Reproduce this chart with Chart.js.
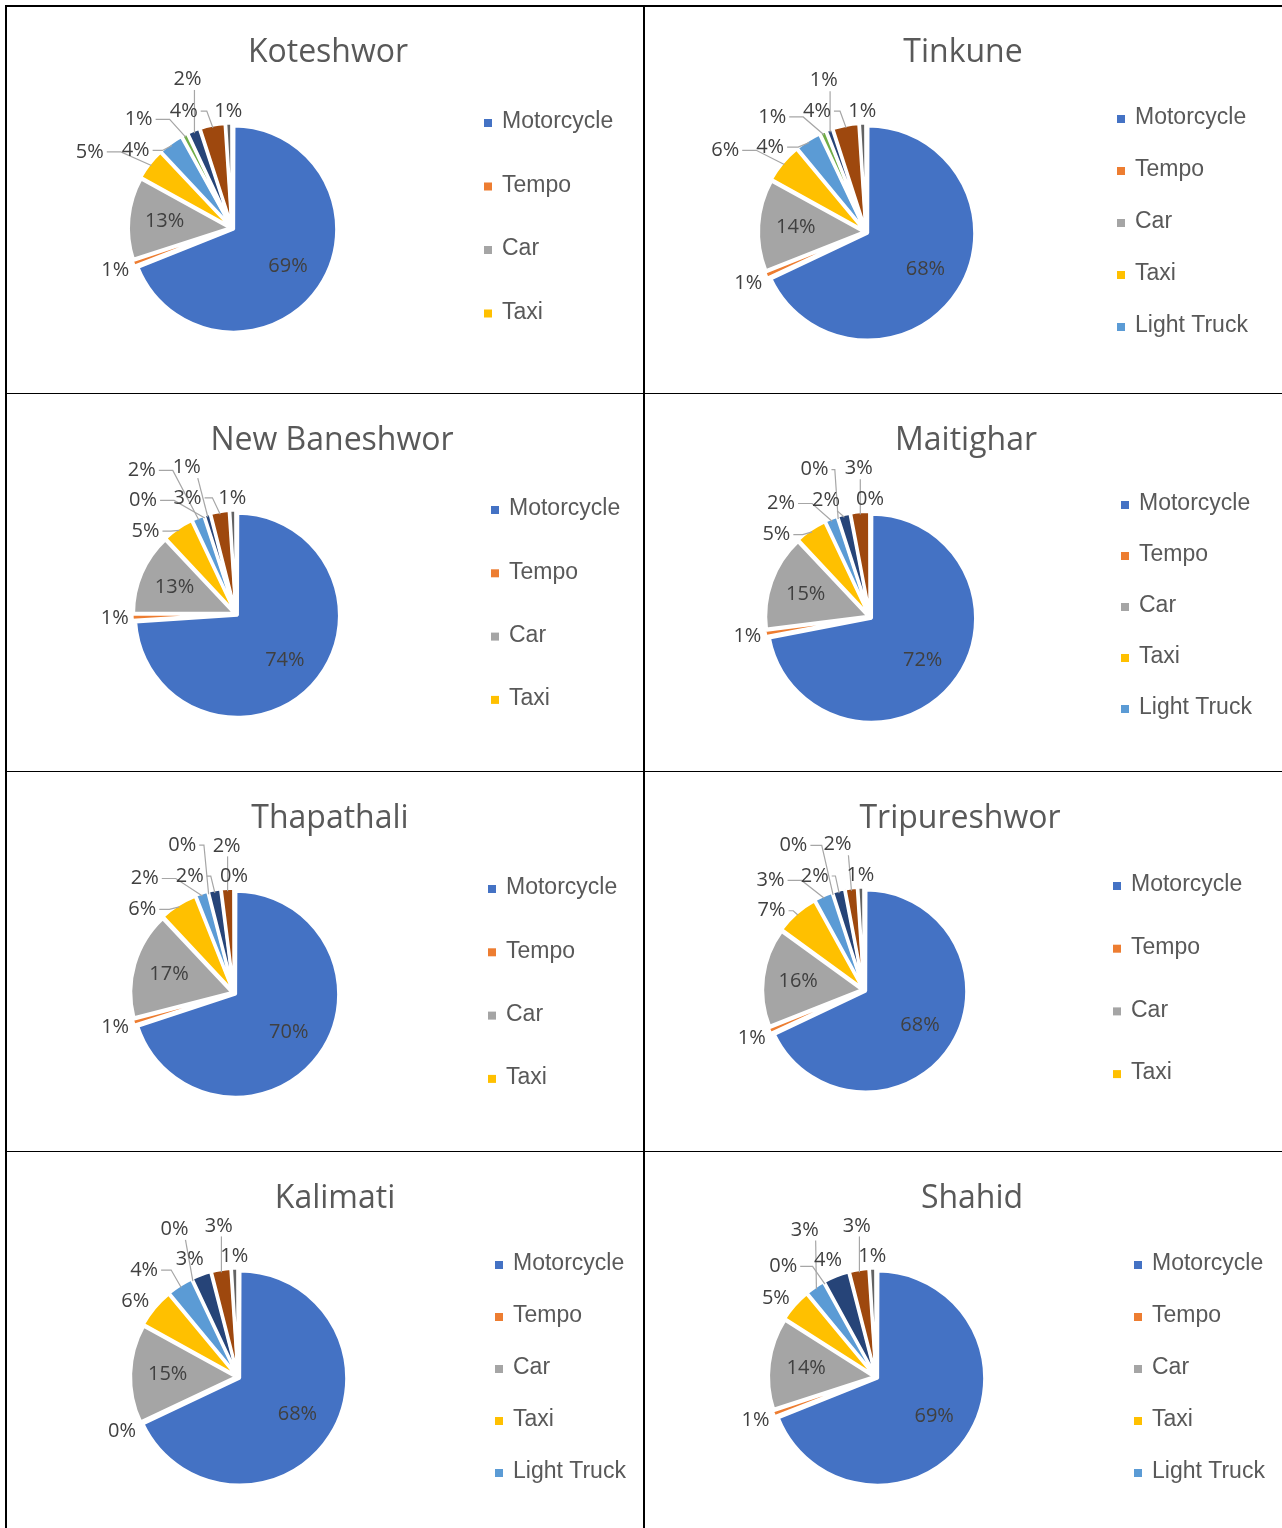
<!DOCTYPE html>
<html><head><meta charset="utf-8">
<script src="https://cdn.jsdelivr.net/npm/chart.js@4.4.1/dist/chart.umd.min.js"></script>
<style>
html,body{margin:0;padding:0;background:#fff;}
body{width:1282px;height:1528px;position:relative;overflow:hidden;}
canvas{position:absolute;}
.line{position:absolute;background:#000;z-index:5;}
</style></head><body>
<script>
// ---------- data ----------
const categories = ['Motorcycle','Tempo','Car','Taxi','Light Truck','Heavy Truck','Bus','Mini Bus','Micro Bus'];
const locations = ['Koteshwor','Tinkune','New Baneshwor','Maitighar','Thapathali','Tripureshwor','Kalimati','Shahid'];
const koteshwor    = [69, 1, 13, 5, 4, 1, 2, 4, 1];
const tinkune      = [68, 1, 14, 6, 4, 1, 1, 4, 1];
const newBaneshwor = [74, 1, 13, 5, 2, 0, 1, 3, 1];
const maitighar    = [72, 1, 15, 5, 2, 0, 2, 3, 0];
const thapathali   = [70, 1, 17, 6, 2, 0, 2, 2, 0];
const tripureshwor = [68, 1, 16, 7, 3, 0, 2, 2, 1];
const kalimati     = [68, 0, 15, 6, 4, 0, 3, 3, 1];
const shahid       = [69, 1, 14, 5, 3, 0, 4, 3, 1];
const seriesValues = [koteshwor, tinkune, newBaneshwor, maitighar, thapathali, tripureshwor, kalimati, shahid];
const legendCounts = [4, 5, 4, 5, 4, 4, 5, 5];

// ---------- style / layout ----------
const colors = ['#4472C4','#ED7D31','#A5A5A5','#FFC000','#5B9BD5','#70AD47','#264478','#9E480E','#636363'];
const colX = [6, 644], colW = [637, 638];
const rowY = [6, 393, 771, 1151], rowH = [387, 378, 380, 377];
const layouts = [
  {cx:226, cy:222, r:101, tx:322, ty:47, lx:478, ly:116, ls:63.5},
  {cx:222, cy:226, r:105, tx:319, ty:47, lx:473, ly:112, ls:52},
  {cx:230, cy:221, r:100, tx:326, ty:48, lx:485, ly:116, ls:63.3},
  {cx:226, cy:224, r:102, tx:322, ty:48, lx:477, ly:111, ls:51},
  {cx:228, cy:222, r:101, tx:324, ty:48, lx:482, ly:117, ls:63.3},
  {cx:220, cy:219, r:99,  tx:316, ty:48, lx:469, ly:114, ls:62.7},
  {cx:232, cy:226, r:105, tx:329, ty:48, lx:489, ly:113, ls:52},
  {cx:232, cy:226, r:105, tx:328, ty:48, lx:490, ly:113, ls:52}
];
const TITLE_FONT = '32px "Open Sans"';
const LEGEND_FONT = '23px "Liberation Sans"';
const LABEL_FONT = '20px "Open Sans"';

const pieDecor = {
  id: 'pieDecor',
  afterDraw(chart, args, opts) {
    const ctx = chart.ctx, L = opts.layout, H = chart.height;
    ctx.save();
    // title
    ctx.font = TITLE_FONT; ctx.fillStyle = '#595959';
    ctx.textAlign = 'center'; ctx.textBaseline = 'middle';
    ctx.fillText(opts.title, L.tx, L.ty);
    const tw = ctx.measureText(opts.title).width;
    const tbox = {l: L.tx - tw/2, r: L.tx + tw/2, t: L.ty - 17, b: L.ty + 17};
    // legend
    const ds = chart.data.datasets[0];
    ctx.font = LEGEND_FONT; ctx.textAlign = 'left';
    for (let i = 0; i < opts.legendCount; i++) {
      const y = L.ly + i * L.ls;
      ctx.fillStyle = ds.backgroundColor[i];
      ctx.fillRect(L.lx, y - 3, 8, 8);
      ctx.fillStyle = '#595959';
      ctx.fillText(chart.data.labels[i], L.lx + 18, y);
    }
    // data labels
    ctx.font = LABEL_FONT;
    const meta = chart.getDatasetMeta(0);
    const items = meta.data.map((arc, i) => {
      const p = arc.getProps(['x','y','startAngle','endAngle','outerRadius'], true);
      const a = (p.startAngle + p.endAngle) / 2;
      const text = Math.round(ds.data[i]) + '%';
      return {i, x: p.x, y: p.y, a, R: p.outerRadius, text, w: ctx.measureText(text).width, h: 17, v: ds.data[i]};
    });
    const placed = [];
    items.forEach(it => {
      if (it.v >= 10) {
        it.px = it.x + Math.cos(it.a) * it.R * 0.67;
        it.py = it.y + Math.sin(it.a) * it.R * 0.67;
        it.inside = true;
      }
    });
    const outs = items.filter(it => !it.inside).sort((p, q) => q.a - p.a);
    const PADX = 16, PADY = 13;
    const ok = (cx, cy, it) => {
      const l = cx - it.w/2, r = cx + it.w/2, t = cy - it.h/2, b = cy + it.h/2;
      if (l < 12 || r > L.lx - 14 || t < 6 || b > H - 6) return false;
      const qx = Math.max(l, Math.min(it.x, r)), qy = Math.max(t, Math.min(it.y, b));
      if (Math.hypot(qx - it.x, qy - it.y) < it.R + 6) return false;
      if (r > tbox.l - 8 && l < tbox.r + 8 && t < tbox.b + 2 && b > tbox.t) return false;
      for (const p of placed) {
        if (r + PADX > p.l && l - PADX < p.r && b + PADY > p.t && t - PADY < p.b) return false;
      }
      return true;
    };
    outs.forEach(it => {
      const c = Math.cos(it.a), s = Math.sin(it.a);
      const ext = Math.abs(c) * it.w/2 + Math.abs(s) * it.h/2;
      const Rn = it.R + 7 + ext;
      const nx = it.x + c * Rn, ny = it.y + s * Rn;
      let best = null, bestCost = Infinity;
      for (let dy = -230; dy <= 230; dy += 2) {
        for (let dx = -260; dx <= 260; dx += 2) {
          let cost = Math.hypot(dx, dy) + (dy > 0 ? dy * 0.5 : 0) + ((c < 0 ? dx > 0 : dx < 0) ? Math.abs(dx) * 0.3 : 0);
          if (cost >= bestCost) continue;
          if (ok(nx + dx, ny + dy, it)) { bestCost = cost; best = [nx + dx, ny + dy]; }
        }
      }
      if (!best) best = [nx, ny];
      it.px = best[0]; it.py = best[1];
      it.moved = Math.hypot(best[0] - nx, best[1] - ny);
      placed.push({l: it.px - it.w/2, r: it.px + it.w/2, t: it.py - it.h/2, b: it.py + it.h/2});
    });
    // leader lines
    ctx.strokeStyle = '#A6A6A6'; ctx.lineWidth = 1.2;
    outs.forEach(it => {
      if (it.moved <= 10) return;
      const ax = it.x + Math.cos(it.a) * (it.R + 1), ay = it.y + Math.sin(it.a) * (it.R + 1);
      const l = it.px - it.w/2, r = it.px + it.w/2, t = it.py - it.h/2, b = it.py + it.h/2;
      ctx.beginPath();
      if (ax > r + 8) {
        const sx = r + 3, ex = sx + Math.min(14, (ax - sx) / 2);
        ctx.moveTo(sx, it.py); ctx.lineTo(ex, it.py); ctx.lineTo(ax, ay);
      } else if (ax < l - 8) {
        const sx = l - 3, ex = sx - Math.min(14, (sx - ax) / 2);
        ctx.moveTo(sx, it.py); ctx.lineTo(ex, it.py); ctx.lineTo(ax, ay);
      } else {
        const sx = Math.max(l + 3, Math.min(ax, r - 3));
        ctx.moveTo(sx, ay > it.py ? b + 2 : t - 2); ctx.lineTo(ax, ay);
      }
      ctx.stroke();
    });
    ctx.fillStyle = '#404040'; ctx.textAlign = 'center'; ctx.textBaseline = 'middle';
    items.forEach(it => ctx.fillText(it.text, it.px, it.py));
    ctx.restore();
  }
};

locations.forEach((name, k) => {
  const col = k % 2, row = Math.floor(k / 2);
  const L = layouts[k];
  const W = colW[col], H = rowH[row];
  const cv = document.createElement('canvas');
  cv.width = W; cv.height = H;
  cv.style.left = colX[col] + 'px'; cv.style.top = rowY[row] + 'px';
  cv.style.width = W + 'px'; cv.style.height = H + 'px';
  document.body.appendChild(cv);
  new Chart(cv, {
    type: 'pie',
    data: {
      labels: categories,
      datasets: [{
        data: seriesValues[k],
        backgroundColor: colors,
        borderColor: '#ffffff',
        borderWidth: 3,
        offset: 8
      }]
    },
    options: {
      responsive: false,
      devicePixelRatio: 1,
      animation: false,
      events: [],
      radius: L.r,
      layout: {padding: {left: 0, right: W - 2 * L.cx, top: 2 * L.cy - H, bottom: 0}},
      plugins: {
        legend: {display: false},
        title: {display: false},
        tooltip: {enabled: false},
        pieDecor: {title: name, legendCount: legendCounts[k], layout: L}
      }
    },
    plugins: [pieDecor]
  });
});

// grid lines
[[5,5,1277,2],[5,5,2,1523],[643,5,2,1523],[5,392.5,1277,1.5],[5,770.5,1277,1.5],[5,1150.5,1277,1.5]].forEach(d => {
  const e = document.createElement('div');
  e.className = 'line';
  e.style.left = d[0] + 'px'; e.style.top = d[1] + 'px';
  e.style.width = d[2] + 'px'; e.style.height = d[3] + 'px';
  document.body.appendChild(e);
});
</script>
</body></html>
